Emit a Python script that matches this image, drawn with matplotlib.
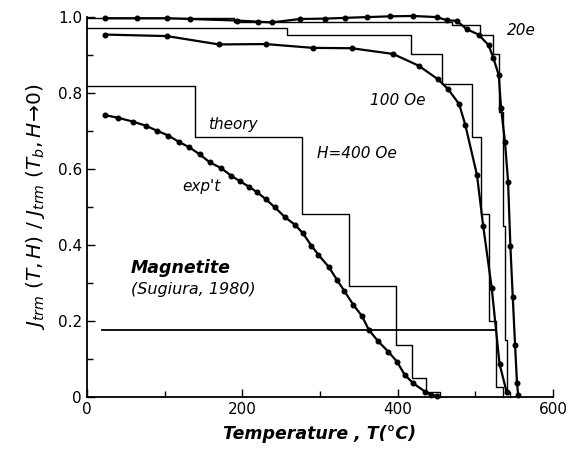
import numpy as np
import matplotlib
matplotlib.use('Agg')
import matplotlib.pyplot as plt
from matplotlib.ticker import MultipleLocator

plt.rcParams['font.family'] = ['DejaVu Sans']
plt.rcParams['mathtext.fontset'] = 'dejavusans'

# measured points (exp't), T in degC
T_400 = [23, 40, 59, 76, 90, 105, 118, 132, 145, 158, 173, 186, 197, 209, 219, 230, 242, 255,
         268, 278, 289, 298, 311, 322, 331, 343, 354, 363, 375, 388, 399, 409, 420, 435, 443, 450]
J_400 = [0.742, 0.735, 0.725, 0.714, 0.701, 0.688, 0.672, 0.657, 0.639, 0.618, 0.602, 0.582,
         0.568, 0.553, 0.539, 0.521, 0.499, 0.473, 0.453, 0.431, 0.398, 0.374, 0.343, 0.308,
         0.280, 0.242, 0.213, 0.176, 0.146, 0.119, 0.093, 0.058, 0.036, 0.014, 0.005, 0.003]

T_100 = [24, 103, 170, 230, 291, 341, 394, 427, 452, 465, 479, 487, 502, 510, 521, 531, 540]
J_100 = [0.954, 0.950, 0.928, 0.929, 0.919, 0.918, 0.903, 0.872, 0.836, 0.810, 0.771, 0.716,
         0.584, 0.450, 0.286, 0.087, 0.014]

T_20 = [23, 65, 103, 133, 193, 220, 238, 274, 307, 332, 360, 390, 420, 450, 463, 476, 489,
        504, 517, 523, 530, 533, 538, 542, 545, 548, 551, 553.5, 555]
J_20 = [0.997, 0.997, 0.997, 0.995, 0.991, 0.988, 0.986, 0.995, 0.996, 0.998, 1.0, 1.002,
        1.003, 1.0, 0.992, 0.99, 0.968, 0.954, 0.926, 0.893, 0.847, 0.76, 0.672, 0.567, 0.396,
        0.264, 0.137, 0.036, 0.005]

# theory (step curves)
Ts_400 = [0, 139, 277, 337, 398, 419, 437, 455]
Js_400 = [0.818, 0.683, 0.481, 0.292, 0.137, 0.049, 0.014, 0.0]

Ts_100 = [0, 257, 417, 457, 496, 507, 518, 526, 536]
Js_100 = [0.970, 0.954, 0.904, 0.823, 0.683, 0.481, 0.2, 0.027, 0.0]

Ts_20 = [0, 190, 470, 506, 523, 530, 535, 538, 541, 545]
Js_20 = [0.998, 0.988, 0.978, 0.953, 0.904, 0.75, 0.45, 0.15, 0.014, 0.0]

# horizontal reference line
ref_T = [19, 525]
ref_J = [0.175, 0.175]

fig = plt.figure(figsize=(5.75, 4.5), dpi=100)
ax = fig.add_axes([0.151, 0.118, 0.811, 0.844])

for T, J in [(Ts_400, Js_400), (Ts_100, Js_100), (Ts_20, Js_20)]:
    ax.step(T, J, where='post', color='black', lw=1.0, clip_on=False)

for T, J in [(T_400, J_400), (T_100, J_100), (T_20, J_20)]:
    ax.plot(T, J, '-o', color='black', lw=1.6, ms=3.3, clip_on=False)

ax.plot(ref_T, ref_J, color='black', lw=1.3)

ax.set_xlim(0, 600)
ax.set_ylim(0, 1.0)
ax.spines['top'].set_visible(False)
ax.spines['right'].set_visible(False)
ax.spines['left'].set_linewidth(1.3)
ax.spines['bottom'].set_linewidth(1.3)
ax.xaxis.set_minor_locator(MultipleLocator(100))
ax.yaxis.set_minor_locator(MultipleLocator(0.1))
ax.set_xticks([0, 200, 400, 600])
ax.set_xticklabels(['0', '200', '400', '600'])
ax.set_yticks([0, 0.2, 0.4, 0.6, 0.8, 1.0])
ax.set_yticklabels(['0', '0.2', '0.4', '0.6', '0.8', '1.0'])
ax.tick_params(which='major', direction='in', length=6, width=1.0, labelsize=11)
ax.tick_params(which='minor', direction='in', length=4, width=1.0)

tk = dict(fontsize=11, style='italic', color='black')
ax.text(540, 0.965, '20e', ha='left', va='center', **tk)
ax.text(400, 0.78, '100 Oe', ha='center', va='center', **tk)
ax.text(188, 0.716, 'theory', ha='center', va='center', **tk)
ax.text(348, 0.641, 'H=400 Oe', ha='center', va='center', **tk)
ax.text(148, 0.555, "exp't", ha='center', va='center', **tk)
ax.text(57, 0.34, 'Magnetite', ha='left', va='center', fontsize=12.5, style='italic',
        fontweight='bold')
ax.text(57, 0.283, '(Sugiura, 1980)', ha='left', va='center', fontsize=11.5, style='italic')

ax.set_xlabel('Temperature , T(°C)', fontsize=12.5, style='italic', fontweight='bold',
              labelpad=6)
ax.set_ylabel(r'$J_{trm}\ (T,H)\ /\ J_{trm}\ (T_b,H\!\rightarrow\!0)$',
              fontsize=14.5, labelpad=8)

fig.savefig('out.png', dpi=100)
